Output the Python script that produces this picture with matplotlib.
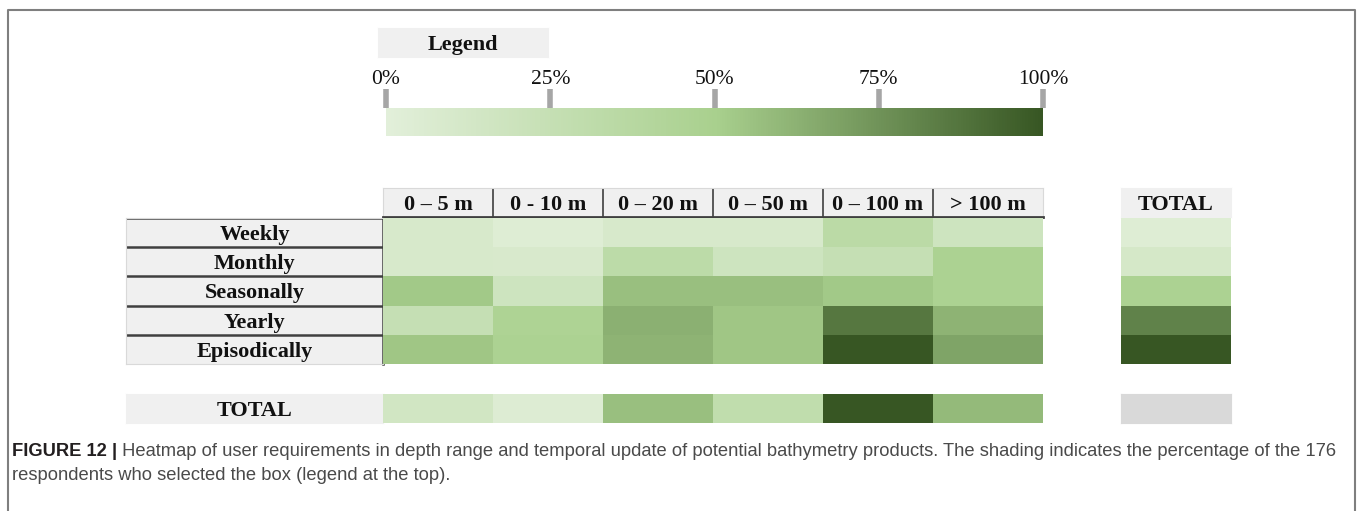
import numpy as np
import matplotlib.pyplot as plt
import matplotlib.cm as cm
from matplotlib.colors import LinearSegmentedColormap, Normalize

depths = ["0 – 5 m", "0 - 10 m", "0 – 20 m", "0 – 50 m", "0 – 100 m", "> 100 m"]
updates = ["Weekly", "Monthly", "Seasonally", "Yearly", "Episodically"]

# share of respondents (%) per box
weekly = [10, 4, 10, 10, 34, 18]
monthly = [10, 9, 33, 18, 25, 47]
seasonally = [53, 18, 57, 57, 53, 47]
yearly = [25, 46, 63, 54, 86, 62]
episodically = [54, 47, 62, 54, 100, 68]
total_row = [15, 5, 57, 30, 100, 59]
total_col = [4, 12, 47, 82, 100]
legend_ticks = [0, 25, 50, 75, 100]

grid = np.array([weekly, monthly, seasonally, yearly, episodically])

cmap = LinearSegmentedColormap.from_list("xlgreen", ["#e2efda", "#a9d08e", "#375623"])
norm = Normalize(0, 100)

W, H = 1358, 511
plt.rcParams['font.family'] = ['Liberation Serif', 'DejaVu Serif']
fig = plt.figure(figsize=(W / 100, H / 100), dpi=100)

dark = '#3f3f3f'
light = '#d9d9d9'
boxgray = '#f0f0f0'


def box(x0, y0, x1, y1):
    # axes placed by pixel edges (top-left origin)
    return fig.add_axes([x0 / W, 1 - y1 / H, (x1 - x0) / W, (y1 - y0) / H])


def clean(ax, color=light):
    ax.set_xticks([])
    ax.set_yticks([])
    for s in ax.spines.values():
        s.set_color(color)
        s.set_linewidth(0.8)


txt = dict(ha='center', va='center', fontsize=16, fontweight='bold', color='#111111')

# frame around the figure
frame = plt.Line2D([8 / W, 8 / W, 1355 / W, 1355 / W], [0, 1 - 10 / H, 1 - 10 / H, 0],
                   transform=fig.transFigure, color='#7f7f7f', lw=1.5)
fig.add_artist(frame)

# legend
lg = box(378, 28, 548, 57)
lg.set_facecolor(boxgray)
clean(lg, boxgray)
lg.text(0.5, 0.42, "Legend", transform=lg.transAxes, **txt)

cax = box(386, 108, 1043, 136)
cb = fig.colorbar(cm.ScalarMappable(norm=norm, cmap=cmap), cax=cax,
                  orientation='horizontal', ticks=legend_ticks)
cb.outline.set_visible(False)
cax.xaxis.set_ticks_position('top')
cax.set_xticklabels([f"{t}%" for t in legend_ticks])
cax.tick_params(axis='x', length=14, width=4, color='#a6a6a6', pad=0,
                labelsize=15.5, labelcolor='#111111')

# column headers
hx = box(383, 188, 1043, 217)
hx.set_facecolor(boxgray)
clean(hx)
hx.set_xlim(0, len(depths))
hx.set_ylim(0, 1)
for i, d in enumerate(depths):
    hx.text(i + 0.5, 0.4, d, **txt)
hx.vlines(np.arange(1, len(depths)), 0, 1, color=dark, lw=1.2)
hx.spines['bottom'].set_color(dark)
hx.spines['bottom'].set_linewidth(2)

# row labels
rx = box(126, 218, 383, 364)
rx.set_facecolor(boxgray)
clean(rx)
rx.set_xlim(0, 1)
rx.set_ylim(len(updates), 0)
for i, u in enumerate(updates):
    rx.text(0.5, i + 0.58, u, **txt)
rx.hlines(np.arange(0, len(updates)), 0, 1, color=dark, lw=1.8)
rx.spines['right'].set_color(dark)
rx.spines['right'].set_linewidth(1.8)

# main heatmap
ax = box(383, 218, 1043, 364)
ax.pcolormesh(grid, cmap=cmap, norm=norm)
ax.set_ylim(len(updates), 0)
clean(ax, 'none')

# total row
tl = box(126, 394, 383, 423)
tl.set_facecolor(boxgray)
clean(tl, boxgray)
tl.text(0.5, 0.42, "TOTAL", transform=tl.transAxes, **txt)

tr = box(383, 394, 1043, 423)
tr.pcolormesh(np.array([total_row]), cmap=cmap, norm=norm)
clean(tr, 'none')

# total column
ch = box(1121, 188, 1231, 217)
ch.set_facecolor(boxgray)
clean(ch, boxgray)
ch.text(0.5, 0.4, "TOTAL", transform=ch.transAxes, **txt)

cv = box(1121, 218, 1231, 364)
cv.pcolormesh(np.array(total_col)[:, None], cmap=cmap, norm=norm)
cv.set_ylim(len(updates), 0)
clean(cv, 'none')

tt = box(1121, 394, 1231, 423)
tt.set_facecolor('#d9d9d9')
clean(tt, '#d9d9d9')

# caption
cap = ['Liberation Sans', 'DejaVu Sans']
t1 = fig.text(12 / W, 1 - 451 / H, "FIGURE 12 |", family=cap, fontsize=13.2,
              fontweight='bold', color='#231f20', va='center')
lg.annotate(" Heatmap of user requirements in depth range and temporal update of potential "
            "bathymetry products. The shading indicates the percentage of the 176",
            xy=(1, 0.5), xycoords=t1, va='center', family=cap, fontsize=13.2,
            color='#4a4a4a', annotation_clip=False)
fig.text(12 / W, 1 - 476 / H, "respondents who selected the box (legend at the top).",
         family=cap, fontsize=13.2, color='#4a4a4a', va='center')

fig.savefig("out.png", dpi=100)
